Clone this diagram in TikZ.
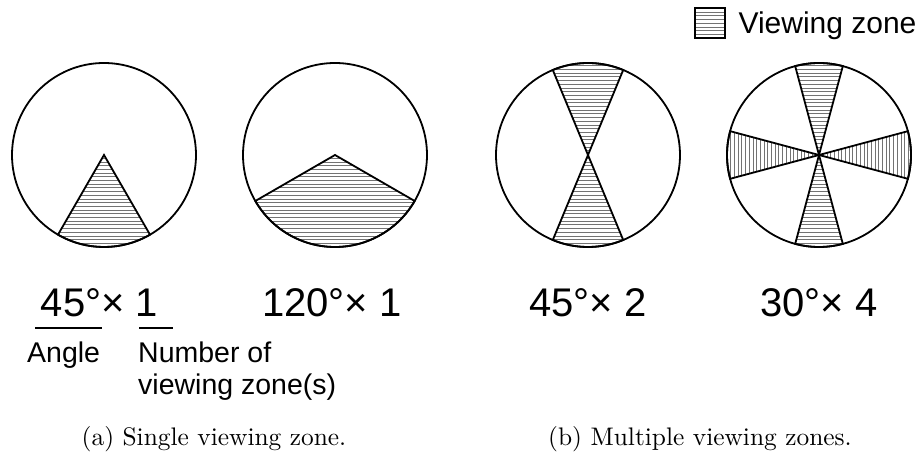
\documentclass[tikz,border=0pt]{standalone}
\usepackage{fontspec}
\newfontfamily\helv{Liberation Sans}
\usetikzlibrary{calc}

\begin{document}
\begin{tikzpicture}[x=1pt,y=1pt,
    zone/.style={line width=1.8pt},
    hatch/.style={black!55, line width=0.7pt},
    big/.style={font=\helv\fontsize{40}{44}\selectfont},
    small/.style={font=\helv\fontsize{28.5}{32}\selectfont, align=left},
    caption/.style={scale=2.54, transform shape}]
\useasboundingbox (0,0) rectangle (922,455);
% centres of the four discs
\coordinate (c1) at (104,300);
\coordinate (c2) at (335,300);
\coordinate (c3) at (588,300);
\coordinate (c4) at (819,300);
% (a) single viewing zone, 60 degrees
\begin{scope}
  \clip (c1) -- ++(240:92) arc (240:300:92) -- cycle;
  \foreach \k in {0,...,50} \draw[hatch] ($(c1)+(-92,-92+\k*3.7)$) -- ++(184,0);
\end{scope}
\draw[zone] (c1) -- ++(240:92) arc (240:300:92) -- cycle;
\draw[zone] (c1) circle (92);
% (a) single viewing zone, 120 degrees
\begin{scope}
  \clip (c2) -- ++(210:92) arc (210:330:92) -- cycle;
  \foreach \k in {0,...,50} \draw[hatch] ($(c2)+(-92,-92+\k*3.7)$) -- ++(184,0);
\end{scope}
\draw[zone] (c2) -- ++(210:92) arc (210:330:92) -- cycle;
\draw[zone] (c2) circle (92);
% (b) two zones
\begin{scope}
  \clip (c3) -- ++(67.5:92) arc (67.5:112.5:92) -- cycle
        (c3) -- ++(247.5:92) arc (247.5:292.5:92) -- cycle;
  \foreach \k in {0,...,50} \draw[hatch] ($(c3)+(-92,-92+\k*3.7)$) -- ++(184,0);
\end{scope}
\draw[zone] (c3) -- ++(67.5:92) arc (67.5:112.5:92) -- cycle;
\draw[zone] (c3) -- ++(247.5:92) arc (247.5:292.5:92) -- cycle;
\draw[zone] (c3) circle (92);
% (b) four zones
\begin{scope}
  \clip (c4) -- ++(75:92) arc (75:105:92) -- cycle
        (c4) -- ++(255:92) arc (255:285:92) -- cycle;
  \foreach \k in {0,...,50} \draw[hatch] ($(c4)+(-92,-92+\k*3.7)$) -- ++(184,0);
\end{scope}
\begin{scope}
  \clip (c4) -- ++(-15:92) arc (-15:15:92) -- cycle
        (c4) -- ++(165:92) arc (165:195:92) -- cycle;
  \foreach \k in {0,...,50} \draw[hatch] ($(c4)+(-92+\k*3.7,-92)$) -- ++(0,184);
\end{scope}
\draw[zone] (c4) -- ++(75:92) arc (75:105:92) -- cycle;
\draw[zone] (c4) -- ++(255:92) arc (255:285:92) -- cycle;
\draw[zone] (c4) -- ++(-15:92) arc (-15:15:92) -- cycle;
\draw[zone] (c4) -- ++(165:92) arc (165:195:92) -- cycle;
\draw[zone] (c4) circle (92);
% legend
\coordinate (key) at (695,417);
\begin{scope}
  \clip (key) rectangle ++(30,30);
  \foreach \k in {1,...,8} \draw[hatch] ($(key)+(0,\k*3.7)$) -- ++(30,0);
\end{scope}
\draw[zone] (key) rectangle ++(30,30);
\node[small, font=\helv\fontsize{30}{34}\selectfont, anchor=base west] (keytxt) at (735,421) {Viewing zone};
% labels
\node[big, anchor=base] (lbl1) at (99.5,138) {45°× 1};
\node[big, anchor=base] (lbl2) at (332,138) {120°× 1};
\node[big, anchor=base] (lbl3) at (588,138) {45°× 2};
\node[big, anchor=base] (lbl4) at (819,138) {30°× 4};
\draw[line width=2.4pt] (35,127) -- (101.7,127);
\draw[line width=2.4pt] (139,127) -- (172.7,127);
\node[small, anchor=base west, inner sep=0pt] (angle) at (27,92) {Angle};
\node[small, anchor=base west, inner sep=0pt] (number) at (138,92) {Number of};
\node[small, anchor=base west, inner sep=0pt] (viewing) at (138,60) {viewing zone(s)};
% captions
\node[caption, anchor=base] (capa) at (214,9) {(a) Single viewing zone.};
\node[caption, anchor=base] (capb) at (700,9) {(b) Multiple viewing zones.};
\end{tikzpicture}
\end{document}
